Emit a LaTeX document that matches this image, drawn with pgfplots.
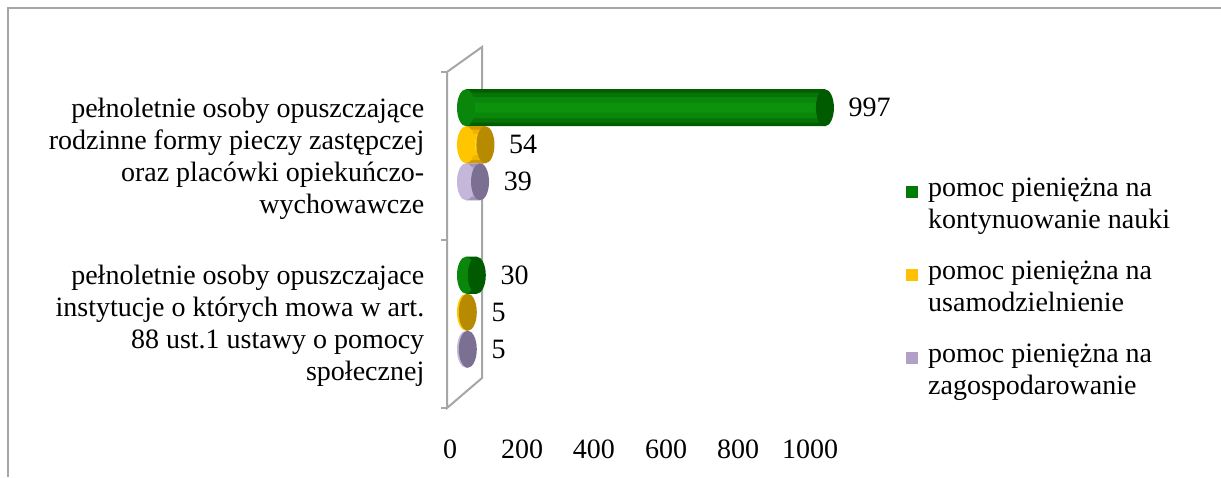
\documentclass[border=0pt]{standalone}
\usepackage{fontspec}
\setmainfont{Liberation Serif}
\usepackage{pgfplots}
\pgfplotsset{compat=1.18}
\definecolor{g1}{HTML}{005E00}
\definecolor{g2}{HTML}{067406}
\definecolor{g3}{HTML}{0A860A}
\definecolor{g4}{HTML}{0D920D}
\definecolor{gCap}{HTML}{005A00}
\definecolor{gLeg}{HTML}{007A00}
\definecolor{y1}{HTML}{D09A00}
\definecolor{y2}{HTML}{F0B400}
\definecolor{y3}{HTML}{FFC600}
\definecolor{y4}{HTML}{FFD430}
\definecolor{yCap}{HTML}{B88A00}
\definecolor{yLeg}{HTML}{FFC000}
\definecolor{p1}{HTML}{A093B8}
\definecolor{p2}{HTML}{B4A7CB}
\definecolor{p3}{HTML}{C4B7DA}
\definecolor{p4}{HTML}{D2C8E4}
\definecolor{pCap}{HTML}{7C7092}
\definecolor{pLeg}{HTML}{B1A0C7}
\pgfdeclareplotmark{cap}{%
  \pgfpathellipse{\pgfpointorigin}{\pgfqpoint{\pgfplotmarksize}{0pt}}{\pgfqpoint{0pt}{9.25pt}}%
  \pgfusepathqfill}
\begin{document}
\fontsize{14pt}{16pt}\selectfont
\begin{tikzpicture}
\path[use as bounding box] (0,0) rectangle (610.5pt,238.5pt);
% chart area border
\draw[gray!70, line width=0.6pt] (4pt,0pt) -- (4pt,234.5pt) -- (610.5pt,234.5pt);
% 3D wall
\begin{scope}[x=0.5pt,y=-0.5pt,shift={(0pt,238.5pt)}]
\draw[gray!70, line width=1pt] (447,72) -- (447,408) -- (482,378) -- (482,47) -- cycle;
\draw[gray!70, line width=1pt] (441,72) -- (447,72) (441,240) -- (447,240) (441,408) -- (447,408);
\end{scope}
\begin{axis}[
  at={(233pt,40.5pt)}, anchor=south west,
  width=180pt, height=167.5pt, scale only axis,
  xmin=0, xmax=1000, ymin=0.5, ymax=2.5,
  clip=false,
  xtick={0,200,400,600,800,1000},
  ytick={1,2},
  yticklabels={{pełnoletnie osoby opuszczajace\\instytucje o których mowa w art.\\88 ust.1 ustawy o pomocy\\społecznej},
               {pełnoletnie osoby opuszczające\\rodzinne formy pieczy zastępczej\\oraz placówki opiekuńczo-\\wychowawcze}},
  yticklabel style={align=right, xshift=-16pt, yshift=-7pt, font=\fontsize{14pt}{16pt}\selectfont},
  xticklabel style={yshift=-17pt, xshift=-8pt, font=\fontsize{14pt}{16pt}\selectfont},
  /pgf/number format/assume math mode=true,
  /pgf/number format/1000 sep={},
  axis line style={draw=none}, tick style={draw=none},
  lay/.style n args={3}{xbar, bar shift=#1, bar width=#2, fill=#3, draw=none, forget plot},
  lbl/.style={nodes near coords, nodes near coords style={anchor=west, xshift=7pt, yshift=#1, text=black, font=\fontsize{14pt}{16pt}\selectfont}},
  legend cell align=left,
  legend style={at={(1.205,0.322)}, anchor=west, draw=none, fill=none,
    font=\fontsize{14pt}{16pt}\selectfont,
    nodes={align=left}, row sep=10pt},
]
% left rounded ends
\addplot[forget plot, only marks, mark=cap, mark size=4.5pt, mark options={fill=g3}] coordinates {(0,2.2209) (0,1.2209)};
\addplot[forget plot, only marks, mark=cap, mark size=4.5pt, mark options={fill=y3}] coordinates {(0,2) (0,1)};
\addplot[forget plot, only marks, mark=cap, mark size=4.5pt, mark options={fill=p3}] coordinates {(0,1.7791) (0,0.7791)};
% green series
\addplot[xbar, bar shift=18.5pt, bar width=18.5pt, fill=g1, draw=none, lbl=18.5pt,
  legend image code/.code={\fill[gLeg] (0pt,3.5pt) rectangle (6pt,9.5pt); \path (9pt,0pt);}]
  coordinates {(997,2) (30,1)};
\addlegendentry{pomoc pieniężna na\\kontynuowanie nauki}
\addplot[lay={18.5pt}{15pt}{g2}] coordinates {(997,2) (30,1)};
\addplot[lay={18.5pt}{10.5pt}{g3}] coordinates {(997,2) (30,1)};
\addplot[lay={18.5pt}{5pt}{g4}] coordinates {(997,2) (30,1)};
% yellow series
\addplot[xbar, bar shift=0pt, bar width=18.5pt, fill=y1, draw=none, lbl=0pt,
  legend image code/.code={\fill[yLeg] (0pt,3.5pt) rectangle (6pt,9.5pt); \path (9pt,0pt);}]
  coordinates {(54,2) (5,1)};
\addlegendentry{pomoc pieniężna na\\usamodzielnienie}
\addplot[lay={0pt}{15pt}{y2}] coordinates {(54,2) (5,1)};
\addplot[lay={0pt}{10.5pt}{y3}] coordinates {(54,2) (5,1)};
\addplot[lay={0pt}{5pt}{y4}] coordinates {(54,2) (5,1)};
% purple series
\addplot[xbar, bar shift=-18.5pt, bar width=18.5pt, fill=p1, draw=none, lbl=-18.5pt,
  legend image code/.code={\fill[pLeg] (0pt,3.5pt) rectangle (6pt,9.5pt); \path (9pt,0pt);}]
  coordinates {(39,2) (5,1)};
\addlegendentry{pomoc pieniężna na\\zagospodarowanie}
\addplot[lay={-18.5pt}{15pt}{p2}] coordinates {(39,2) (5,1)};
\addplot[lay={-18.5pt}{10.5pt}{p3}] coordinates {(39,2) (5,1)};
\addplot[lay={-18.5pt}{5pt}{p4}] coordinates {(39,2) (5,1)};
% right end caps
\addplot[forget plot, only marks, mark=cap, mark size=4.5pt, mark options={fill=gCap}] coordinates {(997,2.2209) (30,1.2209)};
\addplot[forget plot, only marks, mark=cap, mark size=4.5pt, mark options={fill=yCap}] coordinates {(54,2) (5,1)};
\addplot[forget plot, only marks, mark=cap, mark size=4.5pt, mark options={fill=pCap}] coordinates {(39,1.7791) (5,0.7791)};
\end{axis}
\end{tikzpicture}
\end{document}
